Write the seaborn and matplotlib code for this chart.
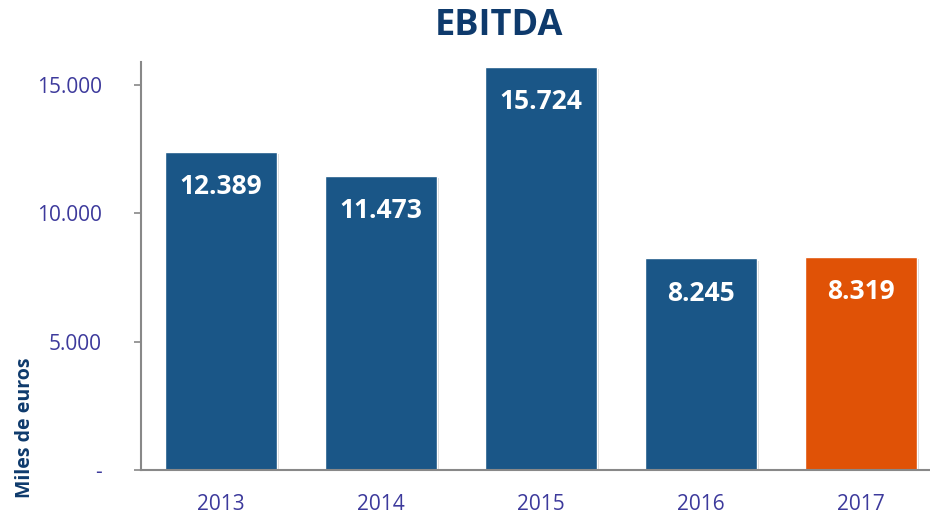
import matplotlib
matplotlib.use('agg')
import matplotlib.pyplot as plt
import matplotlib.patheffects as pe
import seaborn as sns

# data
years = ['2013', '2014', '2015', '2016', '2017']
ebitda = [12389, 11473, 15724, 8245, 8319]
value_labels = ['12.389', '11.473', '15.724', '8.245', '8.319']
ytick_values = [0, 5000, 10000, 15000]
ytick_labels = ['-', '5.000', '10.000', '15.000']

blue = '#1A5687'
orange = '#E05206'
tick_color = '#3D3A9C'
navy = '#0E3A6C'

sns.set_style('white')
plt.rcParams['font.family'] = ['Open Sans', 'DejaVu Sans']

fig = plt.figure(figsize=(9.3, 5.13), dpi=100)
ax = fig.add_axes([141 / 930, 1 - 470 / 513, 1 - 141 / 930, (470 - 62) / 513])

palette = [blue, blue, blue, blue, orange]
sns.barplot(x=years, y=ebitda, hue=years, palette=palette, legend=False,
            width=0.7, saturation=1, ax=ax, zorder=2)

# soft shadow like the original bars
for p in ax.patches:
    p.set_path_effects([pe.SimplePatchShadow(offset=(1.5, -1.5), shadow_rgbFace='#999999', alpha=0.4),
                        pe.Normal()])

for i, (v, lab) in enumerate(zip(ebitda, value_labels)):
    ax.annotate(lab, xy=(i, v), xytext=(0, -25), textcoords='offset points',
                ha='center', va='center', color='white', fontsize=19, fontweight='bold')

ax.set_ylim(0, 15900)
ax.set_xlim(-0.5, 4.43)
ax.set_yticks(ytick_values)
ax.set_yticklabels(ytick_labels)
ax.tick_params(axis='y', colors='#888888', labelcolor=tick_color, labelsize=15,
               length=5, width=1.2, direction='out', pad=23, left=True)
ax.tick_params(axis='x', labelcolor=tick_color, labelsize=15, length=0, pad=17)

for s in ['top', 'right']:
    ax.spines[s].set_visible(False)
for s in ['left', 'bottom']:
    ax.spines[s].set_color('#888888')
    ax.spines[s].set_linewidth(1.5)

ax.set_xlabel('')
ax.set_ylabel('')

fig.text(499 / 930, 1 - 26 / 513, 'EBITDA', ha='center', va='center',
         fontsize=26, fontweight='bold', color=navy)
fig.text(25 / 930, 1 - 428 / 513, 'Miles de euros', ha='center', va='center',
         rotation=90, fontsize=14, fontweight='bold', color=navy)

fig.savefig('out.png', dpi=100)
